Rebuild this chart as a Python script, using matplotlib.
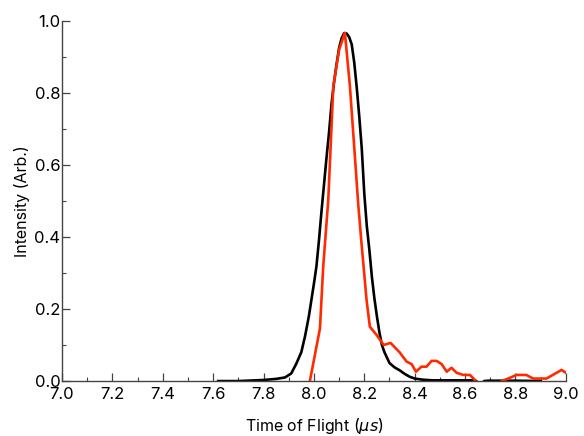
import matplotlib
matplotlib.use("Agg")
import matplotlib.pyplot as plt
from matplotlib.ticker import MultipleLocator
import numpy as np

plt.rcParams['font.family'] = ['Inter', 'DejaVu Sans']
plt.rcParams['mathtext.fontset'] = 'dejavusans'

# black trace (reference), time in microseconds
tof_black = [7.62, 7.70, 7.80, 7.85, 7.885, 7.91, 7.93, 7.95, 7.965, 7.98,
             7.99, 8.00, 8.01, 8.02, 8.03, 8.04, 8.05, 8.06, 8.07, 8.08,
             8.09, 8.10, 8.11, 8.12, 8.13, 8.14, 8.15, 8.16, 8.17, 8.18,
             8.19, 8.20, 8.21, 8.22, 8.23, 8.24, 8.25, 8.26, 8.27, 8.28,
             8.29, 8.30, 8.32, 8.34, 8.36, 8.38, 8.40, 8.43, 8.47, 8.55,
             8.63, 8.645, 8.66, 8.675, 8.69, 8.80, 8.90]
int_black = [0.0, 0.0, 0.003, 0.006, 0.01, 0.021, 0.048, 0.08, 0.125, 0.18,
             0.225, 0.27, 0.318, 0.39, 0.47, 0.545, 0.62, 0.69, 0.77, 0.83,
             0.88, 0.925, 0.952, 0.966, 0.965, 0.955, 0.935, 0.885, 0.815, 0.735,
             0.645, 0.52, 0.43, 0.365, 0.29, 0.23, 0.18, 0.135, 0.10, 0.08,
             0.065, 0.05, 0.038, 0.03, 0.02, 0.012, 0.007, 0.004, 0.002, 0.002,
             0.002, 0.0, -0.02, 0.0, 0.001, 0.001, 0.0]

# red trace (measured)
tof_red = [7.975, 7.984, 8.024, 8.037, 8.057, 8.077, 8.10, 8.123, 8.143, 8.16,
           8.176, 8.189, 8.209, 8.222, 8.25, 8.277, 8.304, 8.34, 8.368, 8.388,
           8.405, 8.427, 8.447, 8.467, 8.487, 8.507, 8.527, 8.546, 8.566, 8.593,
           8.619, 8.639, 8.66, 8.72, 8.745, 8.771, 8.804, 8.843, 8.87, 8.923,
           8.983, 9.0]
int_red = [-0.02, 0.0, 0.146, 0.318, 0.503, 0.818, 0.92, 0.967, 0.818, 0.65,
           0.49, 0.382, 0.225, 0.151, 0.127, 0.10, 0.106, 0.08, 0.054, 0.047,
           0.026, 0.040, 0.040, 0.056, 0.056, 0.047, 0.026, 0.037, 0.023, 0.017,
           0.017, 0.003, -0.03, -0.03, 0.0, 0.007, 0.017, 0.017, 0.007, 0.007,
           0.031, 0.023]

fig = plt.figure(figsize=(5.84, 4.36), dpi=100)
ax = fig.add_axes([0.106, 0.126, 0.863, 0.826])

ax.plot(tof_black, int_black, color='black', lw=1.9, solid_joinstyle='round')
ax.plot(tof_red, int_red, color='#ff2a00', lw=1.9, solid_joinstyle='round')

ax.set_xlim(7.0, 9.0)
ax.set_ylim(0.0, 1.0)
ax.xaxis.set_major_locator(MultipleLocator(0.2))
ax.xaxis.set_minor_locator(MultipleLocator(0.1))
ax.yaxis.set_major_locator(MultipleLocator(0.2))
ax.yaxis.set_minor_locator(MultipleLocator(0.1))
ax.xaxis.set_major_formatter(plt.FormatStrFormatter('%.1f'))
ax.yaxis.set_major_formatter(plt.FormatStrFormatter('%.1f'))

for s in ['top', 'right']:
    ax.spines[s].set_visible(False)
for s in ['left', 'bottom']:
    ax.spines[s].set_color('#444444')
    ax.spines[s].set_linewidth(1.0)

ax.tick_params(which='major', direction='in', length=6, width=0.9,
               color='#444444', labelsize=12)
ax.tick_params(which='minor', direction='in', length=3, width=0.8,
               color='#444444')
ax.tick_params(axis='x', which='major', pad=4)
ax.tick_params(axis='y', which='major', pad=1)

ax.set_xlabel(r'Time of Flight ($\mu s$)', fontsize=11.5, labelpad=10)
ax.set_ylabel('Intensity (Arb.)', fontsize=11.5, labelpad=3)

fig.savefig('out.png', dpi=100)
